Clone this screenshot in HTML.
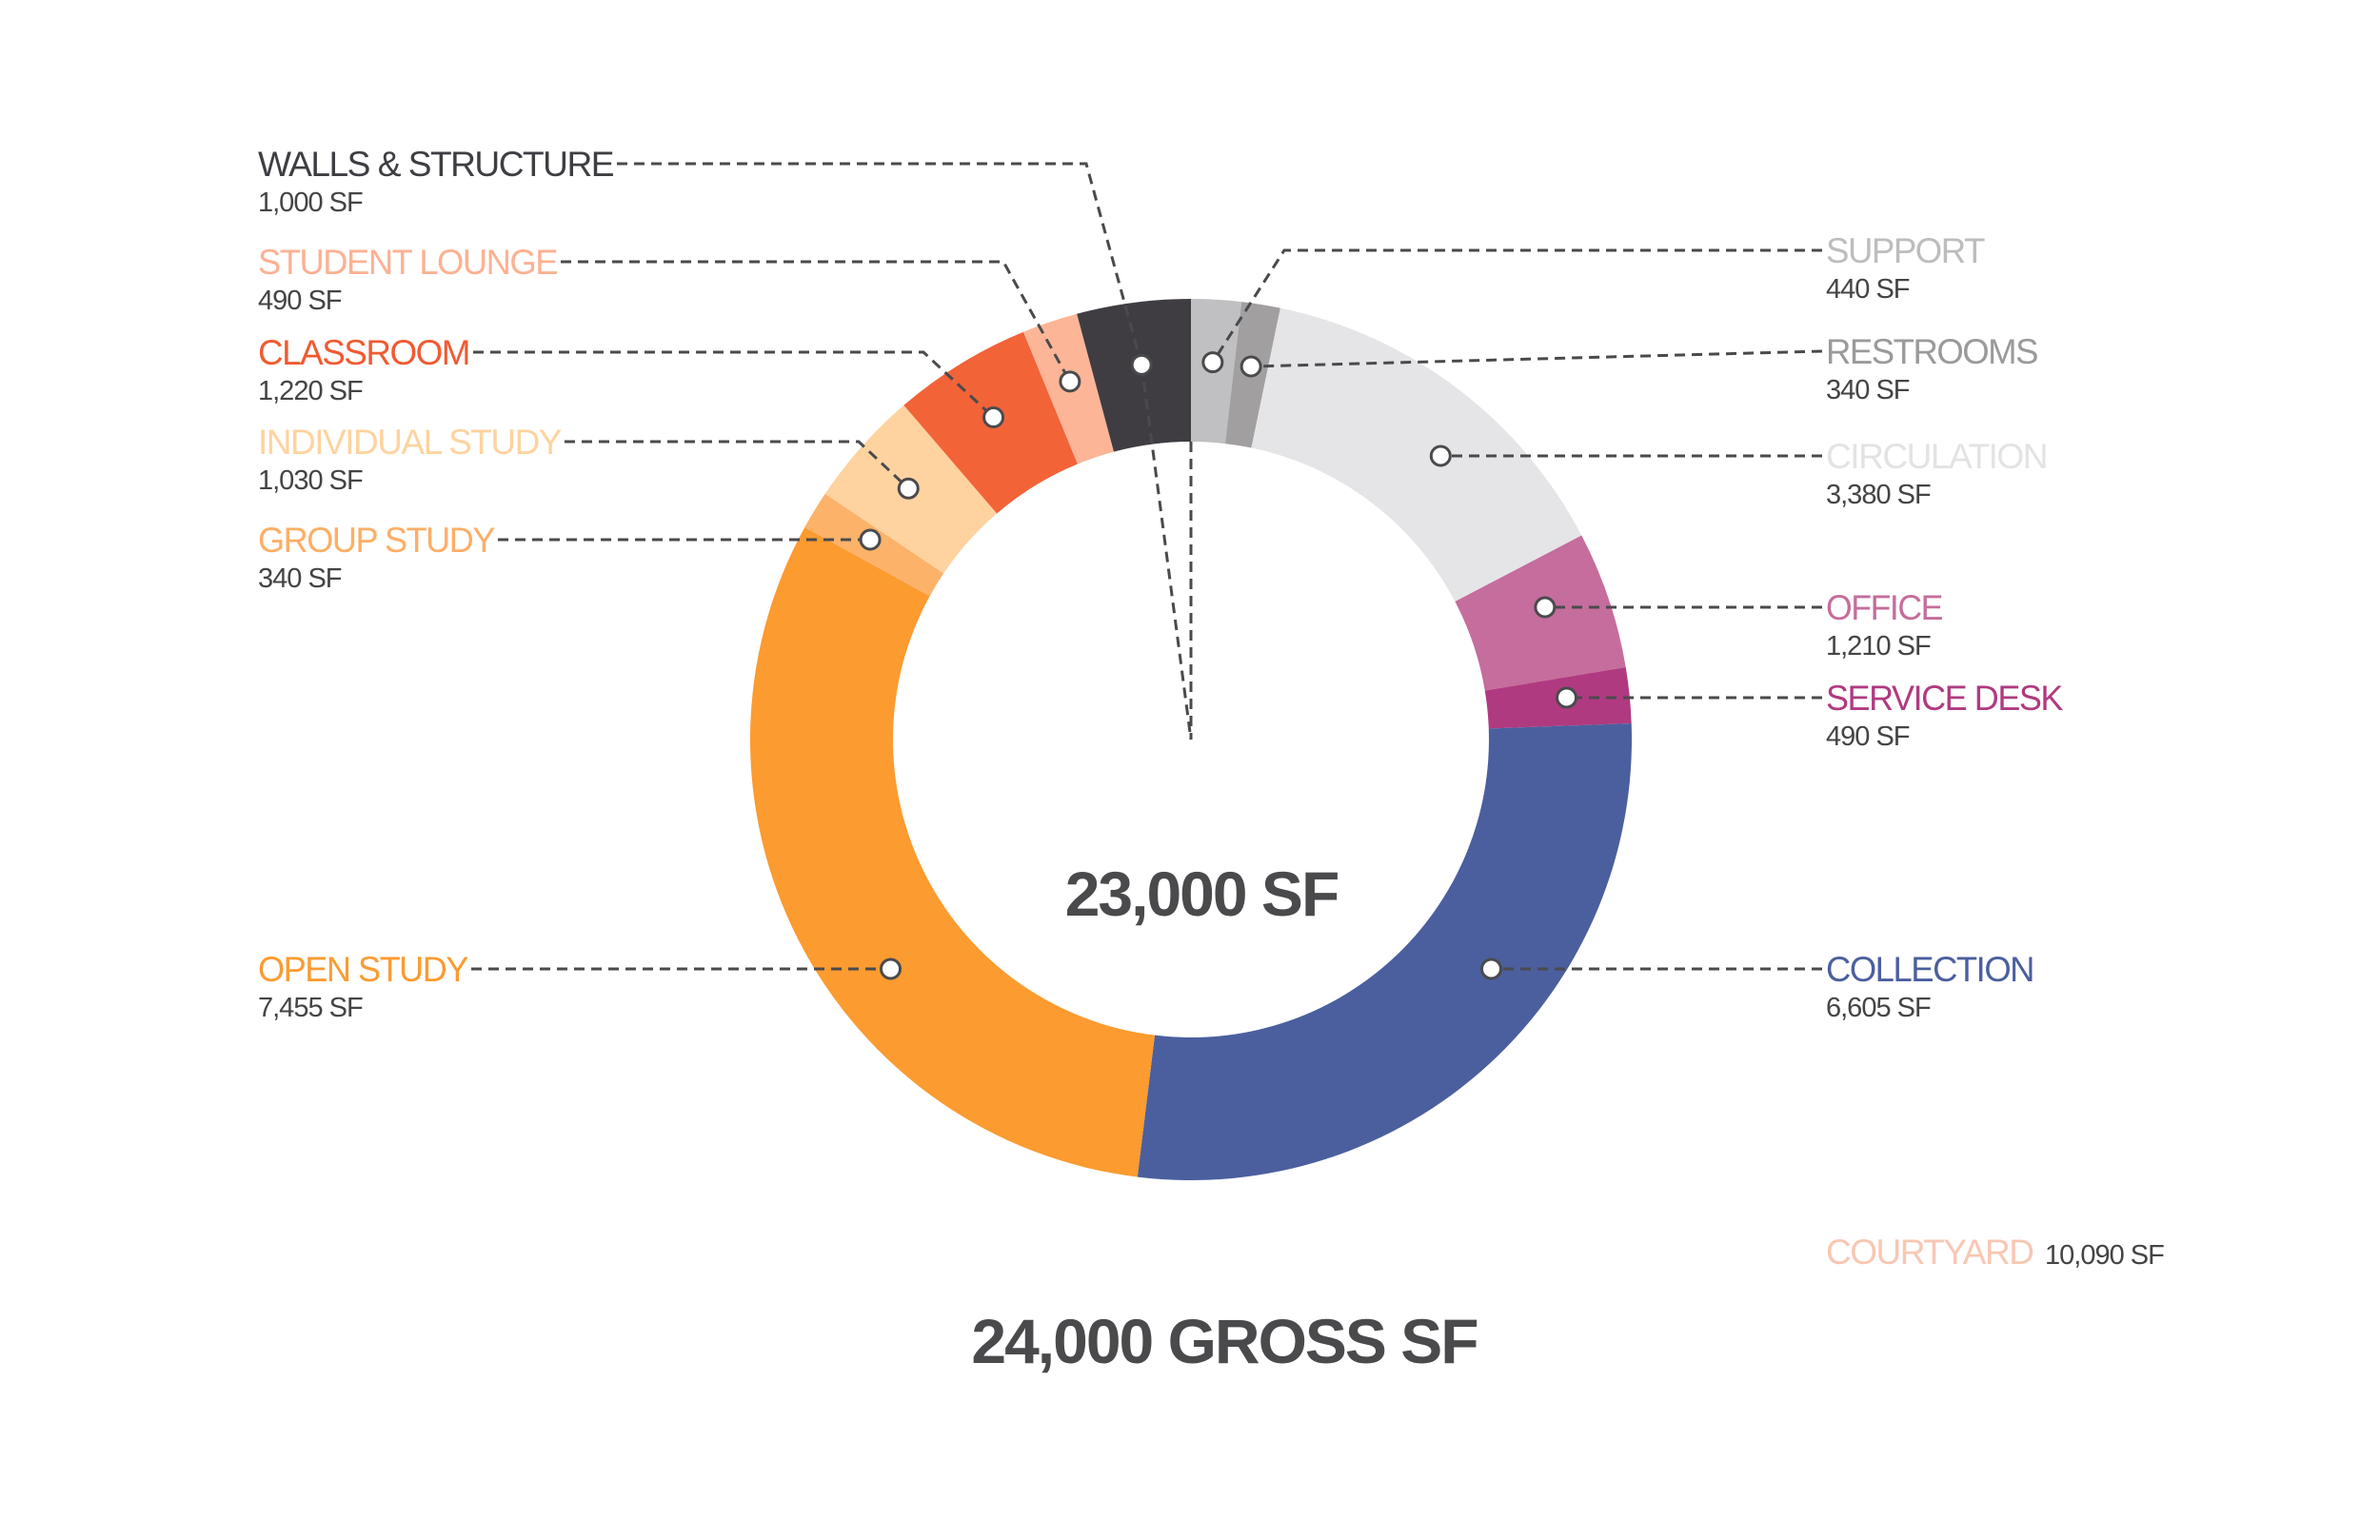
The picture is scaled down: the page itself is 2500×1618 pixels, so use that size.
<!DOCTYPE html>
<html><head><meta charset="utf-8"><style>
html,body{margin:0;padding:0;background:#fff;}
svg{display:block;}
text{font-family:"Liberation Sans",sans-serif;}
.t{font-size:37px;letter-spacing:-1.5px;}
.v{font-size:29px;fill:#444;letter-spacing:-1px;}
</style></head><body>
<svg id="chart" width="2500" height="1618" viewBox="0 0 2500 1618" xmlns="http://www.w3.org/2000/svg">
<g id="arcs"></g>
<g id="leaders"></g>
<g id="dots"></g>
<g id="labels"></g>
<text x="1262" y="962" text-anchor="middle" style="font-size:66px;font-weight:bold;fill:#4a4a4d;letter-spacing:-2px">23,000 SF</text>
<text x="1286" y="1432" text-anchor="middle" style="font-size:66px;font-weight:bold;fill:#4a4a4d;letter-spacing:-2px">24,000 GROSS SF</text>
<text x="1918" y="1328" class="t" style="fill:#f8c7b3">COURTYARD</text>
<text x="2148" y="1328" class="v">10,090 SF</text>
</svg>
<script>
const categories = ["SUPPORT","RESTROOMS","CIRCULATION","OFFICE","SERVICE DESK","COLLECTION","OPEN STUDY","GROUP STUDY","INDIVIDUAL STUDY","CLASSROOM","STUDENT LOUNGE","WALLS & STRUCTURE"];
const areas = [440,340,3380,1210,490,6605,7455,340,1030,1220,490,1000];
const valueLabels = ["440 SF","340 SF","3,380 SF","1,210 SF","490 SF","6,605 SF","7,455 SF","340 SF","1,030 SF","1,220 SF","490 SF","1,000 SF"];

const colors = ["#c0bfc1","#a29fa0","#e5e5e7","#c56d9c","#b03a80","#4b5f9e","#fb9b30","#fdb26a","#fed39f","#f26338","#fdb597","#3f3d42"];
const titleColors = ["#bdbdbd","#9a9a9a","#e3e3e5","#c56d9c","#b03a80","#4b5f9e","#fb9b30","#fdae66","#fed39f","#f05a32","#fcb193","#3f3d42"];
// layout: side, label y, type (h = horizontal leader, e = elbow, m = straight to mid-angle dot), elbow x, title width
const layout = [
 ["r",263,"e",1349,166],["r",369,"m",0,222],["r",479,"h",0,232],["r",638,"h",0,122],
 ["r",733,"h",0,248],["r",1018,"h",0,218],["l",1018,"h",0,220],["l",567,"h",0,248],
 ["l",464,"e",902,318],["l",370,"e",970,222],["l",275,"e",1054,314],["l",172,"e",1141,373]
];
const cx=1251, cy=777, R=463, r0=313, rDot=397;
const NS="http://www.w3.org/2000/svg";
const total = areas.reduce((a,b)=>a+b,0);
function ang(v){return v/total*2*Math.PI;}
function pt(a,rad){return [cx+rad*Math.sin(a), cy-rad*Math.cos(a)];}
function mk(tag,attrs,parent){const e=document.createElementNS(NS,tag);for(const k in attrs)e.setAttribute(k,attrs[k]);parent.appendChild(e);return e;}
const gA=document.getElementById("arcs"),gL=document.getElementById("leaders"),gD=document.getElementById("dots"),gT=document.getElementById("labels");
let cum=0;
const dash={stroke:"#4a4a4d","stroke-width":3,"stroke-dasharray":"11 7",fill:"none"};
categories.forEach((c,i)=>{
  const a0=ang(cum), a1=ang(cum+areas[i]); cum+=areas[i];
  const large=(a1-a0)>Math.PI?1:0;
  const p0=pt(a0,R),p1=pt(a1,R),q1=pt(a1,r0),q0=pt(a0,r0);
  const p=mk("path",{d:`M${p0[0]},${p0[1]}A${R},${R} 0 ${large} 1 ${p1[0]},${p1[1]}L${q1[0]},${q1[1]}A${r0},${r0} 0 ${large} 0 ${q0[0]},${q0[1]}Z`,fill:colors[i]},gA);
  
  
  const L=layout[i], side=L[0], ly=L[1];
  let d;
  if(L[2]==="h"){
    const dy=ly-cy; const dx=Math.sqrt(Math.max(rDot*rDot-dy*dy,0));
    d=[side==="r"?cx+dx:cx-dx, ly];
  } else d=pt((a0+a1)/2,rDot);
  const lx = side==="r"?1914:271+L[4]+4;
  let pts = L[2]!=="e" ? `${lx},${ly} ${d[0]},${d[1]}` : `${lx},${ly} ${L[3]},${ly} ${d[0]},${d[1]}`;
  const ln=mk("polyline",Object.assign({points:pts},dash),gL);
  
  
  if(c==="WALLS & STRUCTURE"){
    const l2=mk("line",Object.assign({x1:d[0],y1:d[1],x2:cx,y2:cy},dash),gL);
    
    
    const l3=mk("line",Object.assign({x1:cx,y1:cy-R+150,x2:cx,y2:cy},dash),gL);
    
    
  }
  const dt=mk("circle",{cx:d[0],cy:d[1],r:10,fill:"#fff",stroke:"#4a4a4d","stroke-width":3},gD);
  
  
  const tx = side==="r"?1918:271;
  const t=mk("text",{x:tx,y:ly+13,class:"t",fill:titleColors[i],textLength:L[4],lengthAdjust:"spacingAndGlyphs"},gT);
  t.textContent=c;
  
  
  const v=mk("text",{x:tx,y:ly+50,class:"v"},gT);
  v.textContent=valueLabels[i];
  
  
});
</script>
</body></html>
